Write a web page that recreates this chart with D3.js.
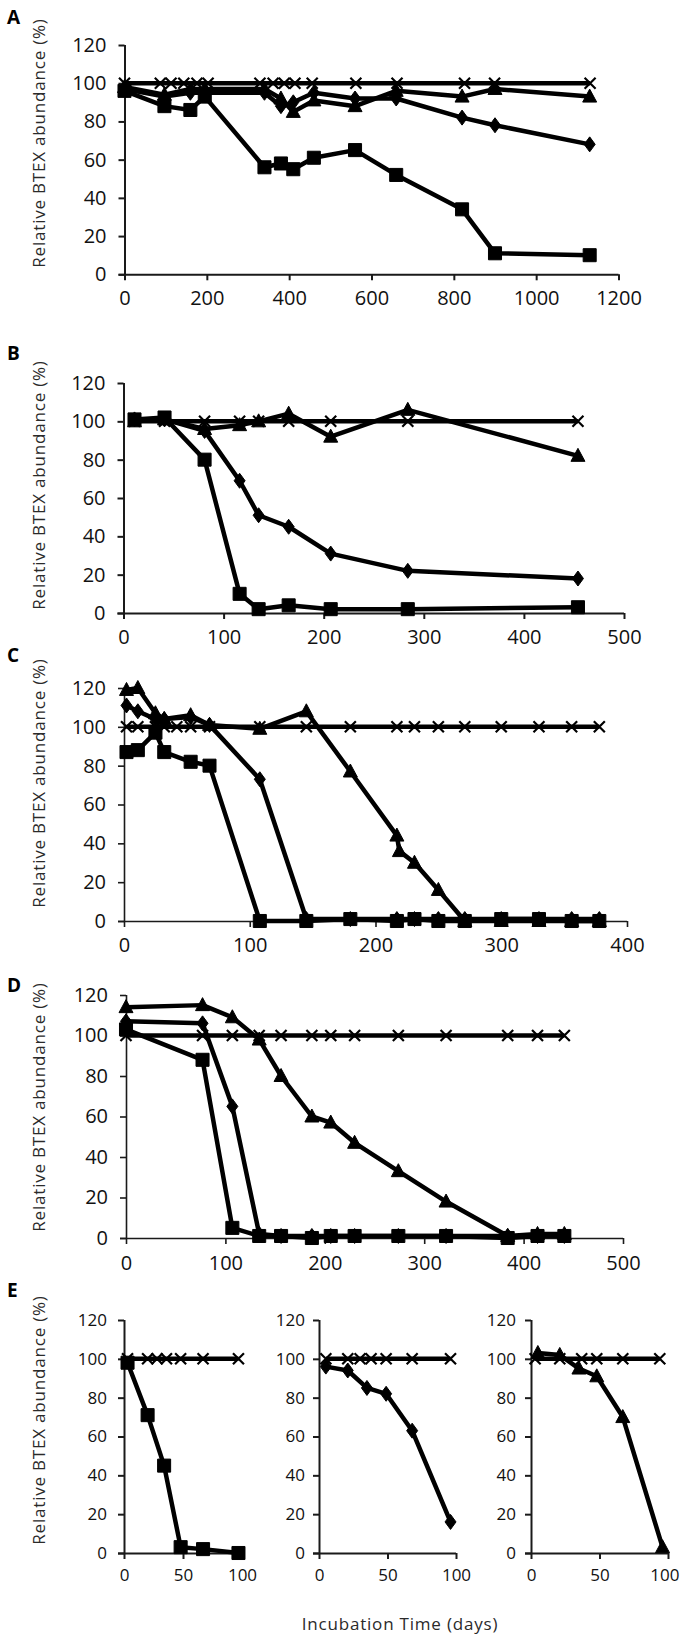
<!DOCTYPE html>
<html><head><meta charset="utf-8">
<script src="https://cdn.jsdelivr.net/npm/d3@7"></script>
<style>body{margin:0;background:#fff}svg{display:block}</style>
</head><body>
<svg id="c" width="681" height="1640"></svg>
<script>
// ---------- tick labels ----------
const yTicks = [0, 20, 40, 60, 80, 100, 120];
const A_xTicks = [0, 200, 400, 600, 800, 1000, 1200];
const B_xTicks = [0, 100, 200, 300, 400, 500];
const C_xTicks = [0, 100, 200, 300, 400];
const D_xTicks = [0, 100, 200, 300, 400, 500];
const E_xTicks = [0, 50, 100];

// ---------- panel A ----------
const A_crossDays = [0, 87, 113, 144, 176, 203, 329, 361, 388, 414, 456, 562, 662, 826, 899, 1131];
const A_square = [[0,96],[97,88],[160,86],[195,93],[340,56],[380,58],[410,55],[460,61],[560,65],[660,52],[820,34],[900,11],[1130,10]];
const A_diamond = [[0,97],[97,93],[160,95],[195,95],[340,95],[380,88],[410,90],[460,95],[560,92],[660,92],[820,82],[900,78],[1130,68]];
const A_triangle = [[0,98],[97,94],[160,97],[195,97],[340,97],[380,92],[410,85],[460,91],[560,88],[660,96],[820,93],[900,97],[1130,93]];

// ---------- panel B ----------
const B_crossDays = [11, 41, 81, 116, 135, 165, 207, 284, 454];
const B_square = [[11,101],[41,102],[81,80],[116,10],[135,2],[165,4],[207,2],[284,2],[454,3]];
const B_diamond = [[11,101],[41,101],[81,95],[116,69],[135,51],[165,45],[207,31],[284,22],[454,18]];
const B_triangle = [[11,100],[41,101],[81,96],[116,98],[135,100],[165,104],[207,92],[284,106],[454,82]];

// ---------- panel C ----------
const C_crossDays = [2, 11, 25, 32, 42, 53, 68, 108, 145, 180, 217, 231, 250, 271, 300, 330, 356, 378];
const C_square = [[2,87],[11,88],[25,97],[32,87],[53,82],[68,80],[108,0],[145,0],[180,1],[217,0],[231,1],[250,0],[271,0],[300,1],[330,1],[356,0],[378,0]];
const C_diamond = [[2,111],[11,108],[25,104],[32,104],[53,105],[68,101],[108,73],[145,1],[180,1],[217,1],[231,1],[250,1],[271,1],[300,1],[330,1],[356,1],[378,1]];
const C_triangle = [[2,119],[11,120],[25,107],[32,104],[53,106],[68,101],[108,99],[145,108],[180,77],[217,44],[219,36],[231,30],[250,16],[271,0],[300,0],[330,0],[356,0],[378,0]];

// ---------- panel D ----------
const D_crossDays = [0, 77, 107, 134, 156, 187, 206, 230, 274, 322, 384, 414, 441];
const D_square = [[0,103],[77,88],[107,5],[134,1],[156,1],[187,0],[206,1],[230,1],[274,1],[322,1],[384,0],[414,1],[441,1]];
const D_diamond = [[0,107],[77,106],[107,65],[134,2],[156,1],[187,1],[206,1],[230,1],[274,1],[322,1],[384,1],[414,1],[441,1]];
const D_triangle = [[0,114],[77,115],[107,109],[134,98],[156,80],[187,60],[206,57],[230,47],[274,33],[322,18],[384,1],[414,2],[441,2]];

// ---------- panel E ----------
const E1_crossDays = [3, 20, 28, 36, 48, 67, 97];
const E1_square = [[3,98],[20,71],[34,45],[48,3],[67,2],[97,0]];
const E2_crossDays = [5, 21, 30, 38, 49, 68, 96];
const E2_diamond = [[5,96],[21,94],[35,85],[49,82],[68,63],[96,16]];
const E3_crossDays = [3, 21, 37, 48, 67, 94];
const E3_triangle = [[5,103],[21,102],[35,95],[48,91],[67,70],[96,3]];

const yTitle = "Relative BTEX abundance (%)";
const xTitle = "Incubation Time (days)";

// ---------- drawing ----------
const svg = d3.select("#c");
const FONT = "'Open Sans', 'DejaVu Sans', sans-serif";

const symPath = {
  square: d3.symbol().type(d3.symbolSquare).size(170)(),
  diamond: "M0,-7.5L5.5,0L0,7.5L-5.5,0Z",
  triangle: "M0,-7.5L7,5.5L-7,5.5Z",
  cross: "M-5.5,-5.5L5.5,5.5M-5.5,5.5L5.5,-5.5"
};

function panel(cfg) {
  const g = svg.append("g");
  const x = d3.scaleLinear().domain([0, cfg.xMax]).range([cfg.left, cfg.right]);
  const y = d3.scaleLinear().domain([0, 120]).range([cfg.bottom, cfg.top]);
  const fs = cfg.fontSize || 20;
  const fmt = d3.format("d");

  const ya = g.append("g").attr("transform", `translate(${cfg.left},0)`)
    .call(d3.axisLeft(y).tickValues(yTicks).tickFormat(fmt).tickSize(6).tickPadding(cfg.yPad || 12));
  const xa = g.append("g").attr("transform", `translate(0,${cfg.bottom})`)
    .call(d3.axisBottom(x).tickValues(cfg.xTicks).tickFormat(fmt).tickSize(6).tickPadding(cfg.xPad || 11));
  [ya, xa].forEach(a => {
    a.select(".domain").attr("stroke", "#1a1a1a").attr("stroke-width", cfg.axisW || 2);
    a.selectAll(".tick line").attr("stroke", "#1a1a1a").attr("stroke-width", cfg.axisW || 2);
    a.selectAll("text").attr("font-family", FONT).attr("font-size", fs).attr("fill", "#111");
  });
  ya.select(".domain").attr("d", `M0.5,${cfg.bottom}V${cfg.top}`);
  xa.select(".domain").attr("d", `M${cfg.left - 6},0.5H${cfg.right}`);
  if (cfg.lastLabelEnd) {
    xa.selectAll(".tick text").filter((d, i, n) => i === n.length - 1)
      .attr("text-anchor", "end").attr("x", cfg.lastLabelEnd - cfg.right);
  }

  const line = d3.line().x(d => x(d[0])).y(d => y(d[1]));
  cfg.series.forEach(s => {
    g.append("path").datum(s.data).attr("d", line)
      .attr("fill", "none").attr("stroke", "#000").attr("stroke-width", 4.5)
      .attr("stroke-linejoin", "round");
    g.selectAll(null).data(s.data).enter().append("path")
      .attr("transform", d => `translate(${x(d[0])},${y(d[1])})`)
      .attr("d", symPath[s.sym])
      .attr("fill", s.sym === "cross" ? "none" : "#000")
      .attr("stroke", "#000")
      .attr("stroke-width", s.sym === "cross" ? 2.2 : 1);
  });

  if (cfg.letter) {
    svg.append("text").attr("x", 7).attr("y", cfg.letterY)
      .attr("font-family", FONT).attr("font-weight", "bold").attr("font-size", 19)
      .attr("fill", "#000").text(cfg.letter);
  }
  if (cfg.titleY) {
    svg.append("text").attr("transform", `translate(38,${cfg.titleY}) rotate(-90)`)
      .attr("text-anchor", "middle").attr("dominant-baseline", "central")
      .attr("font-family", FONT).attr("font-size", 17).attr("letter-spacing", 0.8)
      .attr("fill", "#2a2a2a").text(yTitle);
  }
}

const crossSeries = days => days.map(d => [d, 100]);

panel({letter: "A", letterY: 24, titleY: 143, left: 124.5, right: 618.5, top: 45, bottom: 274.3,
  xMax: 1200, xTicks: A_xTicks,
  series: [{data: A_square, sym: "square"}, {data: A_diamond, sym: "diamond"},
           {data: A_triangle, sym: "triangle"}, {data: crossSeries(A_crossDays), sym: "cross"}]});

panel({letter: "B", letterY: 360, titleY: 485, left: 123.5, right: 624, top: 383, bottom: 613,
  xMax: 500, xTicks: B_xTicks,
  series: [{data: B_square, sym: "square"}, {data: B_diamond, sym: "diamond"},
           {data: B_triangle, sym: "triangle"}, {data: crossSeries(B_crossDays), sym: "cross"}]});

panel({letter: "C", letterY: 662, titleY: 783, left: 124, right: 627, top: 688, bottom: 921,
  xMax: 400, xTicks: C_xTicks, axisW: 1.6,
  series: [{data: C_square, sym: "square"}, {data: C_diamond, sym: "diamond"},
           {data: C_triangle, sym: "triangle"}, {data: crossSeries(C_crossDays), sym: "cross"}]});

panel({letter: "D", letterY: 992, titleY: 1107, left: 126, right: 623, top: 995, bottom: 1238,
  xMax: 500, xTicks: D_xTicks, axisW: 1.6, xPad: 12,
  series: [{data: D_square, sym: "square"}, {data: D_diamond, sym: "diamond"},
           {data: D_triangle, sym: "triangle"}, {data: crossSeries(D_crossDays), sym: "cross"}]});

panel({letter: "E", letterY: 1297, titleY: 1420, left: 124, right: 242, top: 1320, bottom: 1553,
  xMax: 100, xTicks: E_xTicks, fontSize: 17, yPad: 11, xPad: 10,
  series: [{data: E1_square, sym: "square"}, {data: crossSeries(E1_crossDays), sym: "cross"}]});
panel({left: 319, right: 456, top: 1320, bottom: 1553,
  xMax: 100, xTicks: E_xTicks, fontSize: 17, yPad: 8, xPad: 10,
  series: [{data: E2_diamond, sym: "diamond"}, {data: crossSeries(E2_crossDays), sym: "cross"}]});
panel({left: 531, right: 668, top: 1320, bottom: 1553,
  xMax: 100, xTicks: E_xTicks, fontSize: 17, yPad: 9, xPad: 10, lastLabelEnd: 679,
  series: [{data: E3_triangle, sym: "triangle"}, {data: crossSeries(E3_crossDays), sym: "cross"}]});

svg.append("text").attr("x", 400).attr("y", 1623).attr("text-anchor", "middle")
  .attr("dominant-baseline", "central").attr("font-family", FONT).attr("font-size", 17)
  .attr("letter-spacing", 0.8).attr("fill", "#2a2a2a").text(xTitle);
</script>
</body></html>
